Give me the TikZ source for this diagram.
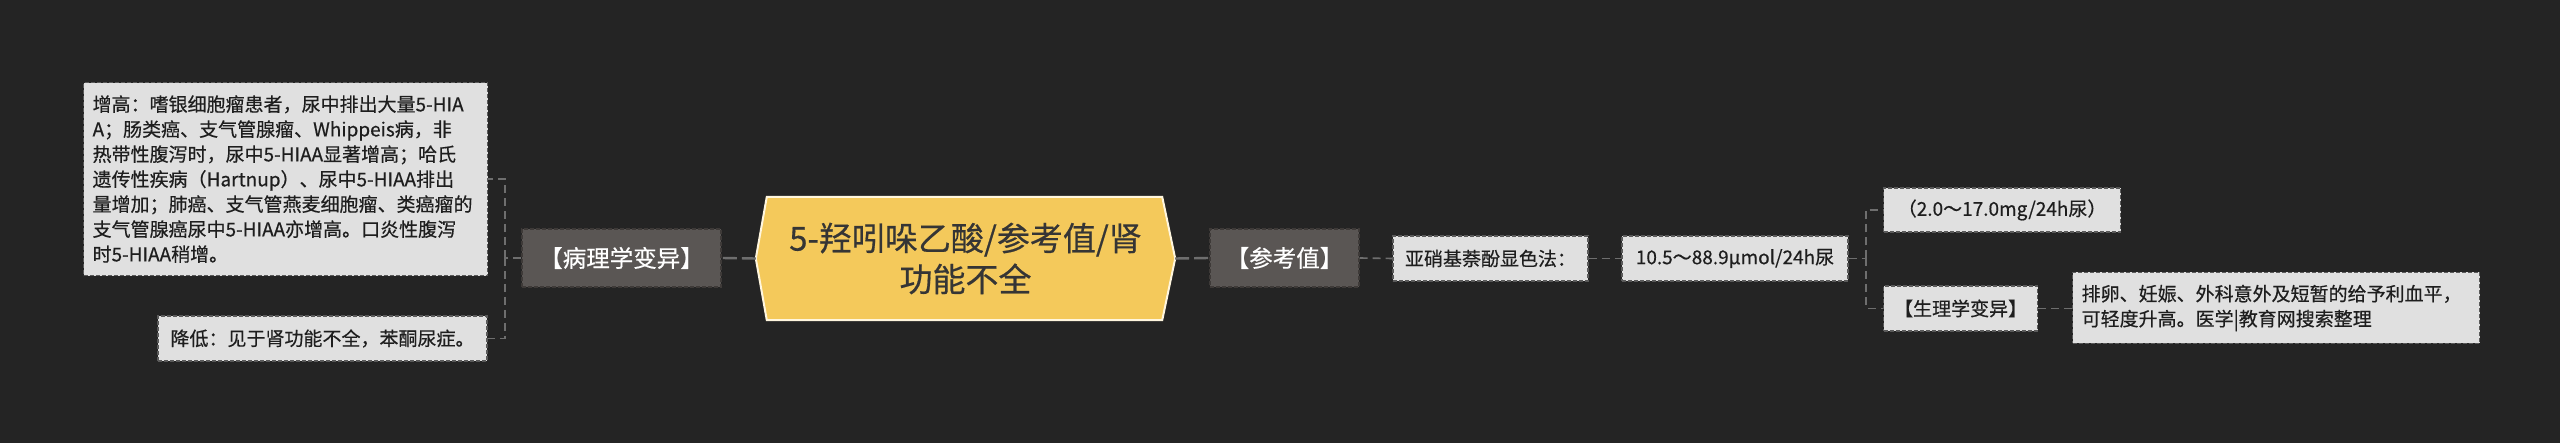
\documentclass[tikz,border=0pt]{standalone}
\usepackage{fontspec}
\setmainfont[FakeBold=0.5]{Noto Sans CJK SC}
\usetikzlibrary{calc}
\pgfdeclarelayer{bg}
\pgfdeclarelayer{mid}
\pgfsetlayers{bg,mid,main}
\definecolor{bgc}{HTML}{242424}
\definecolor{lightfill}{HTML}{E0E0E0}
\definecolor{lightedge}{HTML}{5A5A5A}
\definecolor{darkfill}{HTML}{5A5654}
\definecolor{darkedge}{HTML}{3E3A38}
\definecolor{hexfill}{HTML}{F4C95B}
\definecolor{hexedge}{HTML}{FFF6DE}
\definecolor{linec}{HTML}{6E6E6E}
\definecolor{txt}{HTML}{1E1E1E}
\tikzset{
  lbox/.style={draw=lightedge, fill=lightfill, dash pattern=on 4pt off 2pt, line width=1.2pt,
    text=txt, inner sep=0pt, font=\fontsize{19pt}{25pt}\selectfont},
  dbox/.style={draw=darkedge, fill=darkfill, dash pattern=on 4pt off 2pt, line width=1.2pt,
    text=white, inner sep=0pt, font=\fontsize{23.5pt}{28pt}\selectfont},
  hexstyle/.style={draw=hexedge, fill=hexfill, line width=2pt},
  hextext/.style={inner sep=0pt, text=txt!90!white, align=center, font=\fontsize{33pt}{41pt}\selectfont},
  conn/.style={draw=linec, line width=1.6pt, dash pattern=on 8pt off 5pt},
  mconn/.style={draw=linec, line width=2.4pt, dash pattern=on 14pt off 5pt},
}
\begin{document}
\begin{tikzpicture}[x=1pt,y=-1pt]
\begin{pgfonlayer}{bg}
\fill[bgc] (0,0) rectangle (2560,443);
\end{pgfonlayer}
\useasboundingbox (0,0) rectangle (2560,443);

% central hexagon
\node[hextext, minimum width=419pt, minimum height=123pt] (c) at (965.5,258.5)
  {5-羟吲哚乙酸/参考值/肾\\功能不全};
\begin{pgfonlayer}{mid}
\draw[hexstyle] (c.west) -- ([xshift=11pt]c.north west) -- ([xshift=-13pt]c.north east)
  -- (c.east) -- ([xshift=-13pt]c.south east) -- ([xshift=11pt]c.south west) -- cycle;
\end{pgfonlayer}

% left branch
\node[dbox, minimum width=199pt, minimum height=58pt] (p) at (621.5,258) {【病理学变异】};
\node[lbox, anchor=north west, minimum width=404pt, minimum height=193pt,
  text width=386pt, align=left] (a) at (83,82)
  {增高：嗜银细胞瘤患者，尿中排出大量5-HIA\\
   A；肠类癌、支气管腺瘤、Whippeis病，非\\
   热带性腹泻时，尿中5-HIAA显著增高；哈氏\\
   遗传性疾病（Hartnup）、尿中5-HIAA排出\\
   量增加；肺癌、支气管燕麦细胞瘤、类癌瘤的\\
   支气管腺癌尿中5-HIAA亦增高。口炎性腹泻\\
   时5-HIAA稍增。};
\node[lbox, minimum width=329pt, minimum height=45pt] (b) at (322.5,338.5)
  {降低：见于肾功能不全，苯酮尿症。};
\coordinate (jl) at (505,258);

% right branch
\node[dbox, minimum width=149pt, minimum height=58pt] (r) at (1284.5,258) {【参考值】};
\node[lbox, minimum width=195pt, minimum height=45pt] (m) at (1490.5,258.5) {亚硝基萘酚显色法：};
\node[lbox, minimum width=226pt, minimum height=45pt] (v) at (1735,258.5) {10.5～88.9μmol/24h尿};
\coordinate (jr) at (1866,258.5);
\node[lbox, anchor=west, minimum width=237pt, minimum height=44pt] (g) at (1883,210) {（2.0～17.0mg/24h尿）};
\node[lbox, anchor=west, minimum width=154pt, minimum height=45pt] (s) at (1883,308.5) {【生理学变异】};
\node[lbox, anchor=west, minimum width=407pt, minimum height=71pt, text width=389pt, align=left] (n) at (2072,308)
  {排卵、妊娠、外科意外及短暂的给予利血平，\\可轻度升高。医学|教育网搜索整理};

% connectors
\draw[mconn] (c.west) -- (p.east);
\draw[conn] (p.west) -- (jl);
\draw[conn] (jl) |- (a.east);
\draw[conn] (jl) |- (b.east);
\draw[mconn] (c.east) -- (r.west);
\draw[conn] (r.east) -- (m.west);
\draw[conn] (m.east) -- (v.west);
\draw[conn] (v.east) -- (jr);
\draw[conn] (jr) |- (g.west);
\draw[conn] (jr) |- (s.west);
\draw[conn] (s.east) -- (s.east -| n.west);
\end{tikzpicture}
\end{document}
